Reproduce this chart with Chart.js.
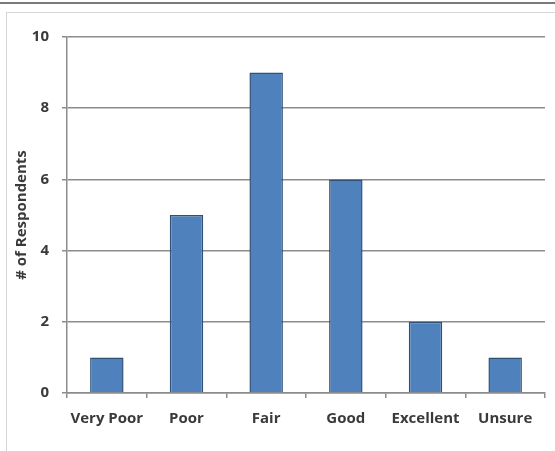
<!DOCTYPE html>
<html>
<head>
<meta charset="utf-8">
<script src="https://cdn.jsdelivr.net/npm/chart.js@4/dist/chart.umd.min.js"></script>
<style>
  html, body { margin: 0; padding: 0; background: #fff; }
  #wrap { position: relative; width: 555px; height: 451px; overflow: hidden; }
  /* outer rule + inner chart frame, like the Excel screenshot */
  #topline { position: absolute; left: 0; top: 2px; width: 555px; height: 2px; background: #7a7a7a; }
  #frame { position: absolute; left: 6px; top: 12px; width: 560px; height: 460px; border: 1px solid #d6d6d6; box-sizing: border-box; }
  canvas { position: absolute; left: 0; top: 0; }
</style>
</head>
<body>
<div id="wrap">
  <div id="topline"></div>
  <div id="frame"></div>
  <canvas id="chart" width="555" height="451"></canvas>
</div>
<script>
// --- data ---
const categories = ["Very Poor", "Poor", "Fair", "Good", "Excellent", "Unsure"];
const respondents = [1, 5, 9, 6, 2, 1];
const yTicks = [0, 2, 4, 6, 8, 10];

const fontFamily = "'Open Sans', 'DejaVu Sans', sans-serif";
const axisFont = { family: fontFamily, size: 15, weight: 'bold' };
const gridGray = '#8c8c8c';
const textColor = '#3a3a3a';

new Chart(document.getElementById('chart'), {
    type: 'bar',
    data: {
        labels: categories,
        datasets: [{
            label: '# of Respondents',
            data: respondents,
            backgroundColor: '#4f81bd',
            borderColor: '#2f5077',
            borderWidth: 1.5,
            barPercentage: 0.42,
            categoryPercentage: 1
        }]
    },
    options: {
        responsive: false,
        animation: false,
        layout: { padding: { left: 8, right: 10, top: 37, bottom: 0 } },
        plugins: { legend: { display: false }, tooltip: { enabled: false } },
        scales: {
            x: {
                grid: { offset: true, drawOnChartArea: false, drawTicks: true, tickLength: 5, color: gridGray, lineWidth: 1.5 },
                border: { color: gridGray, width: 1.5 },
                ticks: { color: textColor, font: axisFont, padding: 12, maxRotation: 0, autoSkip: false },
                afterFit: s => { s.height = 58; }
            },
            y: {
                min: 0,
                max: 10,
                afterBuildTicks: s => { s.ticks = yTicks.map(v => ({ value: v })); },
                grid: { color: gridGray, lineWidth: 1.5, tickLength: 5 },
                border: { color: gridGray, width: 1.5 },
                ticks: { color: textColor, font: axisFont, padding: 13 },
                title: {
                    display: true,
                    text: '# of Respondents',
                    color: textColor,
                    font: { family: fontFamily, size: 15, weight: 'bold' },
                    padding: { top: 5, bottom: 0 }
                },
                afterFit: s => { s.width = 59; }
            }
        }
    }
});
</script>
</body>
</html>
